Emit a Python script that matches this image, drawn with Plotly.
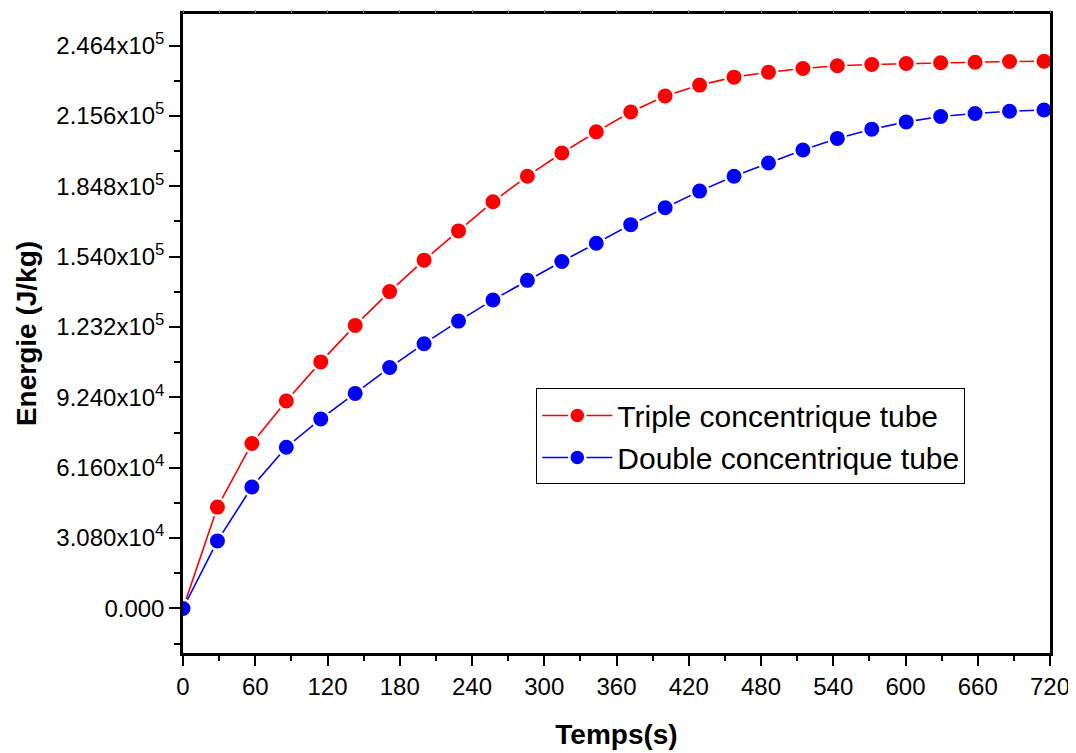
import plotly.graph_objects as go

# Data
temps = [0, 28.6, 57.2, 85.8, 114.4, 143.0, 171.6, 200.2, 228.8, 257.4, 286.0, 314.6, 343.2,
         371.8, 400.4, 429.0, 457.6, 486.2, 514.8, 543.4, 572.0, 600.6, 629.2, 657.8, 686.4, 715.0]

triple = [0, 44360, 72220, 90810, 107920, 123900, 138700, 152460, 165250, 178010, 189200,
          199340, 208610, 217320, 224290, 229080, 232560, 234740, 236350, 237520, 238090,
          238520, 238830, 239090, 239390, 239520]

double = [0, 29560, 53150, 70570, 82980, 94120, 105440, 115890, 125770, 135040, 143620,
          151890, 159860, 168000, 175400, 182670, 189200, 194990, 200650, 205740, 209790,
          212970, 215320, 216630, 217630, 218190]

y_tickvals = [0, 30800, 61600, 92400, 123200, 154000, 184800, 215600, 246400]
y_ticktext = ["0.000", "3.080x10<sup>4</sup>", "6.160x10<sup>4</sup>", "9.240x10<sup>4</sup>",
              "1.232x10<sup>5</sup>", "1.540x10<sup>5</sup>", "1.848x10<sup>5</sup>",
              "2.156x10<sup>5</sup>", "2.464x10<sup>5</sup>"]

series_names = ["Triple concentrique tube", "Double concentrique tube"]
series_colors = ["#FF0000", "#0000FF"]

FONT = "Arial, 'Liberation Sans', sans-serif"

fig = go.Figure()
for name, vals, col in zip(series_names, [triple, double], series_colors):
    fig.add_trace(go.Scatter(
        x=temps, y=vals, name=name, mode="lines+markers",
        line=dict(color=col, width=1.6),
        marker=dict(symbol="circle", size=17.5, color=col,
                    line=dict(color="white", width=2.5)),
        cliponaxis=True,
    ))

# The page body has an 8px default margin, so margins are offset by 8px
fig.update_layout(
    width=1076, height=753,
    margin=dict(l=175, r=34, t=3, b=108),
    paper_bgcolor="white", plot_bgcolor="white",
    font=dict(family=FONT, color="black"),
    showlegend=True,
    legend=dict(
        x=0.4075, y=0.414, xanchor="left", yanchor="top",
        bgcolor="white", bordercolor="black", borderwidth=1,
        font=dict(family=FONT, size=30, color="black"),
        itemwidth=70, tracegroupgap=0,
    ),
    xaxis=dict(
        range=[0, 720], tickmode="linear", tick0=0, dtick=60,
        ticks="outside", ticklen=10, tickwidth=2, tickcolor="black",
        showline=True, linewidth=2.5, linecolor="black", mirror=True,
        showgrid=False, zeroline=False,
        tickfont=dict(family=FONT, size=24, color="black"),
        minor=dict(tickmode="linear", tick0=0, dtick=30, ticks="outside",
                   ticklen=5, tickwidth=2, tickcolor="black", showgrid=False),
        title=dict(text="<b>Temps(s)</b>", font=dict(family=FONT, size=28, color="black"),
                   standoff=26),
    ),
    xaxis2=dict(
        range=[0, 720], overlaying="x", side="top", tickmode="linear", tick0=0, dtick=30,
        ticks="outside", ticklen=3, tickwidth=1, tickcolor="#888888",
        showticklabels=False, showline=False, showgrid=False, zeroline=False,
    ),
    yaxis=dict(
        range=[-19500, 260200], tickmode="array", tickvals=y_tickvals, ticktext=y_ticktext,
        ticks="outside", ticklen=11, tickwidth=2, tickcolor="black",
        showline=True, linewidth=2.5, linecolor="black", mirror=True,
        showgrid=False, zeroline=False,
        tickfont=dict(family=FONT, size=24, color="black"),
        minor=dict(tickmode="linear", tick0=0, dtick=15400, ticks="outside",
                   ticklen=6, tickwidth=2, tickcolor="black", showgrid=False),
        title=dict(text="<b>Energie (J/kg)</b>", font=dict(family=FONT, size=28, color="black"),
                   standoff=12),
    ),
)

# invisible trace to activate the top tick axis
fig.add_trace(go.Scatter(x=[0, 720], y=[None, None], xaxis="x2", showlegend=False,
                         hoverinfo="skip", mode="lines"))

fig.write_html("out.html")
